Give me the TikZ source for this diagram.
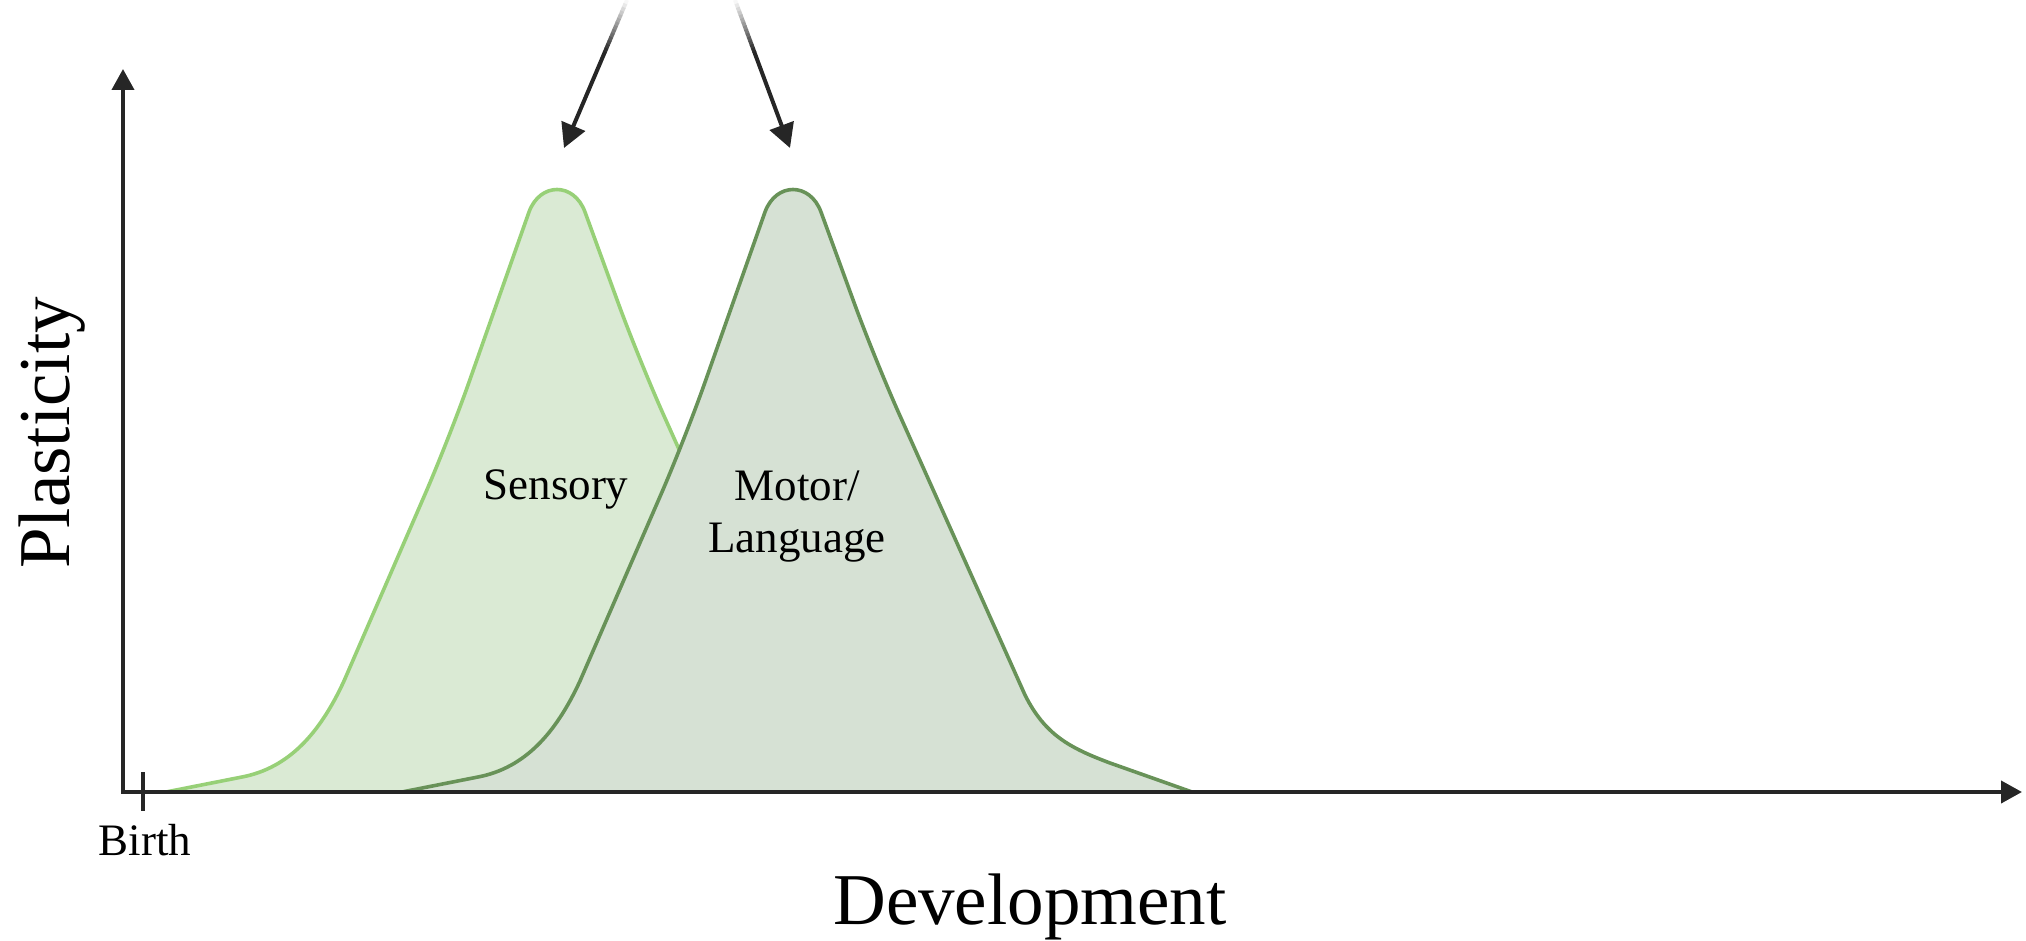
\documentclass[tikz,border=0pt]{standalone}
\usepackage{fontspec}
\setmainfont{Liberation Serif}
\usetikzlibrary{arrows.meta,calc}
\definecolor{axiscol}{RGB}{38,38,38}
\definecolor{sensfill}{RGB}{218,234,212}
\definecolor{sensline}{RGB}{151,208,119}
\definecolor{motfill}{RGB}{214,225,212}
\definecolor{motline}{RGB}{104,146,88}
\begin{document}
\begin{tikzpicture}[x=0.5pt,y=-0.5pt,
  axisline/.style={line width=2pt, draw=axiscol},
  tipped/.style={-{Triangle[length=12pt,width=12.5pt]}},
  smalltext/.style={font=\fontsize{22.5}{26}\selectfont, inner sep=0pt, text=black},
  bigtext/.style={font=\fontsize{36.5}{42}\selectfont, inner sep=0pt, text=black},
  curveline/.style={line width=1.8pt, line join=round, line cap=round}]
\useasboundingbox (0,0) rectangle (2026,941);

% curves: sensory (shifted copy) and motor/language
\foreach \sx/\fc/\lc in {-118pt/sensfill/sensline, 0pt/motfill/motline}{
  \begin{scope}[xshift=\sx]
    \fill[\fc] (402,792) -- (478,777) .. controls (525,768) and (556,733) .. (580,681)
      [rounded corners=30pt] -- (685,439) [sharp corners] -- (765,212) .. controls (776,182) and (810,182) .. (821,212)
      [rounded corners=30pt] -- (875,360) [sharp corners] -- (1025,695) .. controls (1045,735) and (1070,748) .. (1110,763)
      -- (1192,792) -- cycle;
    \draw[\lc,curveline] (402,792) -- (478,777) .. controls (525,768) and (556,733) .. (580,681)
      [rounded corners=30pt] -- (685,439) [sharp corners] -- (765,212) .. controls (776,182) and (810,182) .. (821,212)
      [rounded corners=30pt] -- (875,360) [sharp corners] -- (1025,695) .. controls (1045,735) and (1070,748) .. (1110,763)
      -- (1192,792);
  \end{scope}
}

% axes
\coordinate (O) at (123,792);
\coordinate (ytip) at (123,69);
\coordinate (xtip) at (2022,792);
\draw[axisline, line join=miter, {Triangle[length=10.5pt,width=11pt]}-{Triangle[length=10.5pt,width=11pt]}] (ytip) -- (O) -- (xtip);
\coordinate (tickA) at (143,772);
\coordinate (tickB) at (143,811);
\draw[axisline] (tickA) -- (tickB);

% top arrows with faded start
\coordinate (a1s) at (627,0);
\coordinate (a1e) at (564,148);
\coordinate (a2s) at (735,0);
\coordinate (a2e) at (790,148);
\foreach \s/\e in {a1s/a1e, a2s/a2e}{
  \foreach \i in {0,...,13}{
    \pgfmathsetmacro\pa{\i*0.025}
    \pgfmathsetmacro\pb{(\i+1)*0.025+0.004}
    \pgfmathsetmacro\pc{(\i+0.5)*100/14}
    \draw[line width=2pt, color=axiscol!\pc!white] ($(\s)!\pa!(\e)$) -- ($(\s)!\pb!(\e)$);
  }
  \draw[line width=2pt, axiscol, tipped] ($(\s)!0.35!(\e)$) -- (\e);
}

% labels
\node[smalltext, anchor=base] (sens) at (556,500) {Sensory};
\node[smalltext, align=center, anchor=center] (motor) at (797,517) {Motor/\\Language};
\node[smalltext, anchor=base] (birth) at (145,855) {Birth};
\node[bigtext, anchor=base] (dev) at (1030,924) {Development};
\node[bigtext, anchor=base, rotate=90] (plast) at (69,433) {Plasticity};
\end{tikzpicture}
\end{document}
